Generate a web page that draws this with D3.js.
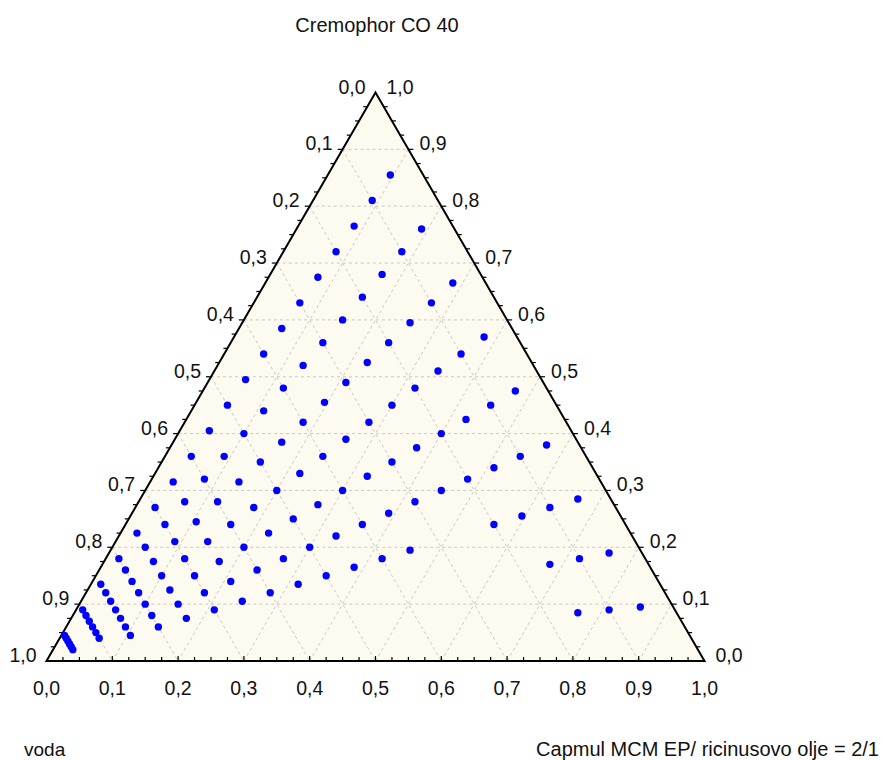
<!DOCTYPE html>
<html>
<head>
<meta charset="utf-8">
<script src="https://cdn.jsdelivr.net/npm/d3@7"></script>
<style>
  html, body { margin: 0; padding: 0; background: #ffffff; }
  svg text { font-family: "Liberation Sans", Arial, sans-serif; fill: #111; }
</style>
</head>
<body>
<svg id="chart" width="881" height="760"></svg>
<script>
// Axis titles
const topTitle = "Cremophor CO 40";
const leftTitle = "voda";
const rightTitle = "Capmul MCM EP/ ricinusovo olje = 2/1";

// Tick values and their labels (decimal comma)
const tickValues = [0, 0.1, 0.2, 0.3, 0.4, 0.5, 0.6, 0.7, 0.8, 0.9, 1.0];
const tickLabels = ["0,0", "0,1", "0,2", "0,3", "0,4", "0,5", "0,6", "0,7", "0,8", "0,9", "1,0"];

// Surfactant share in the surfactant/oil mixture (Cremophor : oil phase)
const surfactantRatios = [0.9, 0.8, 0.7, 0.6, 0.5, 0.4, 0.3, 0.2, 0.1];
// Water content of each dilution row
const waterLevels = [0.05, 0.10, 0.15, 0.20, 0.25, 0.30, 0.35, 0.40, 0.45, 0.50,
                     0.55, 0.60, 0.65, 0.70, 0.75, 0.80, 0.85, 0.90, 0.95];
// Lowest surfactant share plotted in each water row
const lowestRatio = [0.1, 0.1, 0.1, 0.3, 0.4, 0.4, 0.3, 0.3, 0.3, 0.3,
                     0.3, 0.3, 0.3, 0.3, 0.3, 0.3, 0.3, 0.4, 0.4];

// Sample compositions: s = Cremophor, w = voda, c = Capmul/ricinusovo olje
const samples = [];
waterLevels.forEach((w, i) => {
  surfactantRatios.filter(r => r >= lowestRatio[i] - 1e-9).forEach(r => {
    samples.push({ s: r * (1 - w), c: (1 - r) * (1 - w), w: w });
  });
});

const svg = d3.select("#chart");

// Triangle geometry via linear scales: base fraction -> x, Cremophor fraction -> y
const xScale = d3.scaleLinear().domain([0, 1]).range([46.5, 704.5]);
const yScale = d3.scaleLinear().domain([0, 1]).range([661, 92.5]);
const pt = (s, c) => [xScale(c + s / 2), yScale(s)];

const apexTop = pt(1, 0), apexLeft = pt(0, 0), apexRight = pt(0, 1);

// Plot area fill
svg.append("path")
  .attr("d", d3.line()([apexTop, apexLeft, apexRight]) + "Z")
  .attr("fill", "#fdfaf0");

// Dashed grid
const gridG = svg.append("g")
  .attr("stroke", "#c8c8c8").attr("stroke-width", 1)
  .attr("stroke-dasharray", "3,3").attr("fill", "none");
tickValues.slice(1, -1).forEach(v => {
  // constant Cremophor
  gridG.append("line").attr("x1", pt(v, 0)[0]).attr("y1", pt(v, 0)[1])
    .attr("x2", pt(v, 1 - v)[0]).attr("y2", pt(v, 1 - v)[1]);
  // constant Capmul
  gridG.append("line").attr("x1", pt(0, v)[0]).attr("y1", pt(0, v)[1])
    .attr("x2", pt(1 - v, v)[0]).attr("y2", pt(1 - v, v)[1]);
  // constant voda
  gridG.append("line").attr("x1", pt(1 - v, 0)[0]).attr("y1", pt(1 - v, 0)[1])
    .attr("x2", pt(0, 1 - v)[0]).attr("y2", pt(0, 1 - v)[1]);
});

// Minor/major ticks every 0.025
const tickG = svg.append("g").attr("stroke", "#000").attr("stroke-width", 1.2);
d3.range(1, 40).forEach(k => {
  const v = k / 40;
  const len = (k % 4 === 0) ? 5 : 4;
  // bottom axis (Capmul), pointing up
  const b = pt(0, v);
  tickG.append("line").attr("x1", b[0]).attr("y1", b[1]).attr("x2", b[0]).attr("y2", b[1] - len);
  // left axis (voda), pointing left
  const l = pt(1 - v, 0);
  tickG.append("line").attr("x1", l[0]).attr("y1", l[1]).attr("x2", l[0] - len).attr("y2", l[1]);
  // right axis (Cremophor), pointing right
  const r = pt(v, 1 - v);
  tickG.append("line").attr("x1", r[0]).attr("y1", r[1]).attr("x2", r[0] + len).attr("y2", r[1]);
});

// Triangle outline
svg.append("path")
  .attr("d", d3.line()([apexTop, apexLeft, apexRight]) + "Z")
  .attr("fill", "none").attr("stroke", "#000").attr("stroke-width", 2)
  .attr("stroke-linejoin", "miter");

// Tick labels
const fs = 19.5;
const labG = svg.append("g").attr("font-size", fs);
tickValues.forEach((v, i) => {
  // bottom: Capmul 0..1 left to right
  const b = pt(0, v);
  labG.append("text").attr("x", b[0]).attr("y", b[1] + 34)
    .attr("text-anchor", "middle").text(tickLabels[i]);
  // left: voda 0 at top, 1 at bottom-left
  const l = pt(1 - v, 0);
  labG.append("text").attr("x", l[0] - 10).attr("y", l[1] + 1)
    .attr("text-anchor", "end").text(tickLabels[i]);
  // right: Cremophor 1 at top, 0 at bottom-right
  const r = pt(v, 1 - v);
  labG.append("text").attr("x", r[0] + 11).attr("y", r[1] + 1)
    .attr("text-anchor", "start").text(tickLabels[i]);
});

// Axis titles
svg.append("text").attr("x", 377).attr("y", 32).attr("text-anchor", "middle")
  .attr("font-size", 20).text(topTitle);
svg.append("text").attr("x", 24).attr("y", 756).attr("text-anchor", "start")
  .attr("font-size", 19).text(leftTitle);
svg.append("text").attr("x", 879).attr("y", 756).attr("text-anchor", "end")
  .attr("font-size", 20).text(rightTitle);

// Sample points
svg.append("g").selectAll("circle")
  .data(samples)
  .join("circle")
  .attr("cx", d => pt(d.s, d.c)[0])
  .attr("cy", d => pt(d.s, d.c)[1])
  .attr("r", 3.7)
  .attr("fill", "#0000ff");
</script>
</body>
</html>
